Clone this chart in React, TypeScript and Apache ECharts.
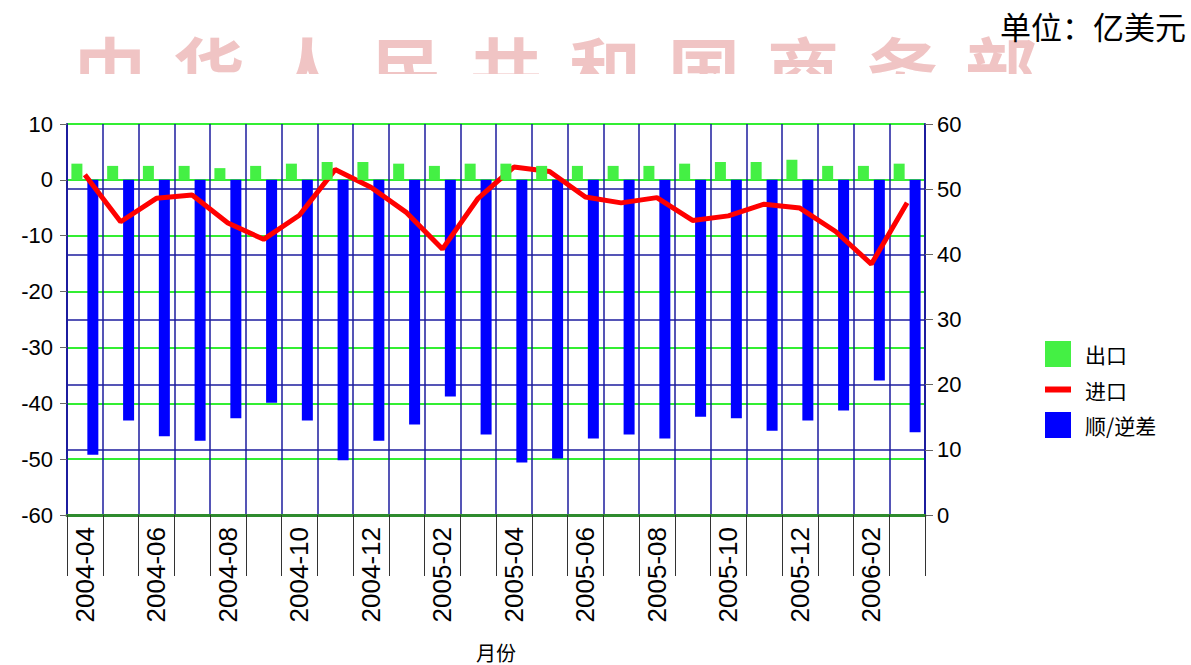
import React, { useEffect, useRef } from "react";
import * as echarts from "echarts";

const months = [
  "2004-04", "2004-05", "2004-06", "2004-07", "2004-08", "2004-09", "2004-10", "2004-11",
  "2004-12", "2005-01", "2005-02", "2005-03", "2005-04", "2005-05", "2005-06", "2005-07",
  "2005-08", "2005-09", "2005-10", "2005-11", "2005-12", "2006-01", "2006-02", "2006-03",
];
const exportsData = [2.9, 2.5, 2.5, 2.5, 2.1, 2.5, 2.9, 3.2, 3.2, 2.9, 2.5, 2.9, 2.9, 2.5, 2.5, 2.5, 2.5, 2.9, 3.2, 3.2, 3.6, 2.5, 2.5, 2.9];
const importsData = [52.2, 45.0, 48.6, 49.1, 44.8, 42.3, 46.0, 53.0, 50.3, 46.4, 40.8, 48.6, 53.4, 52.7, 48.8, 47.9, 48.7, 45.2, 45.9, 47.7, 47.1, 43.5, 38.5, 47.9];
const balanceData = [-49.2, -43.1, -45.9, -46.7, -42.7, -39.9, -43.1, -50.2, -46.7, -43.8, -38.8, -45.6, -50.6, -49.9, -46.3, -45.6, -46.3, -42.4, -42.7, -44.9, -43.1, -41.3, -35.9, -45.2];
const watermarkChars = ["中", "华", "人", "民", "共", "和", "国", "商", "务", "部"];
const unitText = "单位：亿美元";
const axisName = "月份";
const seriesNames = ["出口", "进口", "顺/逆差"];

const NAVY = "#1c1c9e";
const GREEN_GRID = "#33ee33";
const LATIN = "'Liberation Sans', Arial, sans-serif";
const CJK = "'Noto Sans CJK SC', sans-serif";

export default function App() {
  const ref = useRef<HTMLDivElement>(null);
  useEffect(() => {
    document.body.style.margin = "0";
    const chart = echarts.init(ref.current!, null, { renderer: "svg" });
    const graphics: any[] = watermarkChars.map((c, i) => ({
      type: "text",
      left: 74 + i * 99,
      top: 30,
      z: 1,
      style: { text: c, fontSize: 72, fontWeight: "bold", fontFamily: CJK, fill: "#f0c4c4" },
    }));
    graphics.push({
      type: "rect",
      shape: { x: 0, y: 74, width: 1191, height: 38 },
      z: 5,
      style: { fill: "#ffffff" },
    });
    graphics.push({
      type: "text",
      right: 5,
      top: 10,
      z: 10,
      style: { text: unitText, fontSize: 31, fontFamily: CJK, fill: "#000" },
    });

    chart.setOption({
      animation: false,
      backgroundColor: "#ffffff",
      graphic: graphics,
      grid: { left: 67, right: 266, top: 124, bottom: 150, containLabel: false, outerBoundsMode: "none" },
      legend: {
        orient: "vertical",
        left: 1040,
        top: 336,
        itemWidth: 26,
        itemHeight: 26,
        itemGap: 12,
        data: [
          { name: seriesNames[0], icon: "rect" },
          { name: seriesNames[1], icon: "path://M0,0 L26,0 L26,6 L0,6 Z" },
          { name: seriesNames[2], icon: "rect" },
        ],
        textStyle: { fontSize: 21, fontFamily: CJK, color: "#000", padding: [0, 0, 0, 9] },
      },
      xAxis: {
        type: "category",
        data: months,
        boundaryGap: true,
        name: axisName,
        nameLocation: "middle",
        nameGap: 127,
        nameTextStyle: { fontSize: 20, fontFamily: CJK, color: "#000" },
        axisLine: { onZero: false, lineStyle: { color: "#2e8b2e", width: 3 } },
        axisTick: { show: true, interval: 0, length: 61, lineStyle: { color: "#333", width: 1 } },
        axisLabel: {
          interval: 1,
          rotate: 90,
          margin: 12,
          fontSize: 26,
          fontFamily: LATIN,
          color: "#000",
        },
        splitLine: { show: true, interval: 0, lineStyle: { color: NAVY, width: 1.5 } },
      },
      yAxis: [
        {
          type: "value",
          min: -60,
          max: 10,
          interval: 10,
          axisLine: { show: true, lineStyle: { color: NAVY, width: 2 } },
          axisTick: { show: true, length: 7, lineStyle: { color: "#666" } },
          axisLabel: { fontSize: 22, fontFamily: LATIN, color: "#000", margin: 14 },
          splitLine: { show: true, lineStyle: { color: GREEN_GRID, width: 2 } },
        },
        {
          type: "value",
          min: 0,
          max: 60,
          interval: 10,
          position: "right",
          axisLine: { show: true, lineStyle: { color: NAVY, width: 2 } },
          axisTick: { show: true, length: 8, lineStyle: { color: "#666" } },
          axisLabel: { fontSize: 22, fontFamily: LATIN, color: "#000", margin: 12 },
          splitLine: {
            show: true,
            lineStyle: {
              color: ["transparent", NAVY, NAVY, NAVY, NAVY, NAVY, "transparent"],
              width: 1.5,
            },
          },
        },
      ],
      series: [
        {
          name: seriesNames[0],
          type: "bar",
          yAxisIndex: 0,
          data: exportsData,
          barWidth: 11,
          barGap: "45%",
          z: 4,
          itemStyle: { color: "#44f044" },
        },
        {
          name: seriesNames[1],
          type: "line",
          yAxisIndex: 1,
          data: importsData,
          symbol: "none",
          z: 3,
          lineStyle: { color: "#ff0000", width: 5 },
          itemStyle: { color: "#ff0000" },
        },
        {
          name: seriesNames[2],
          type: "bar",
          yAxisIndex: 0,
          data: balanceData,
          barWidth: 11,
          z: 2,
          itemStyle: { color: "#0000ff" },
        },
      ],
    });
    return () => chart.dispose();
  }, []);
  return <div ref={ref} style={{ width: 1191, height: 665 }} />;
}
